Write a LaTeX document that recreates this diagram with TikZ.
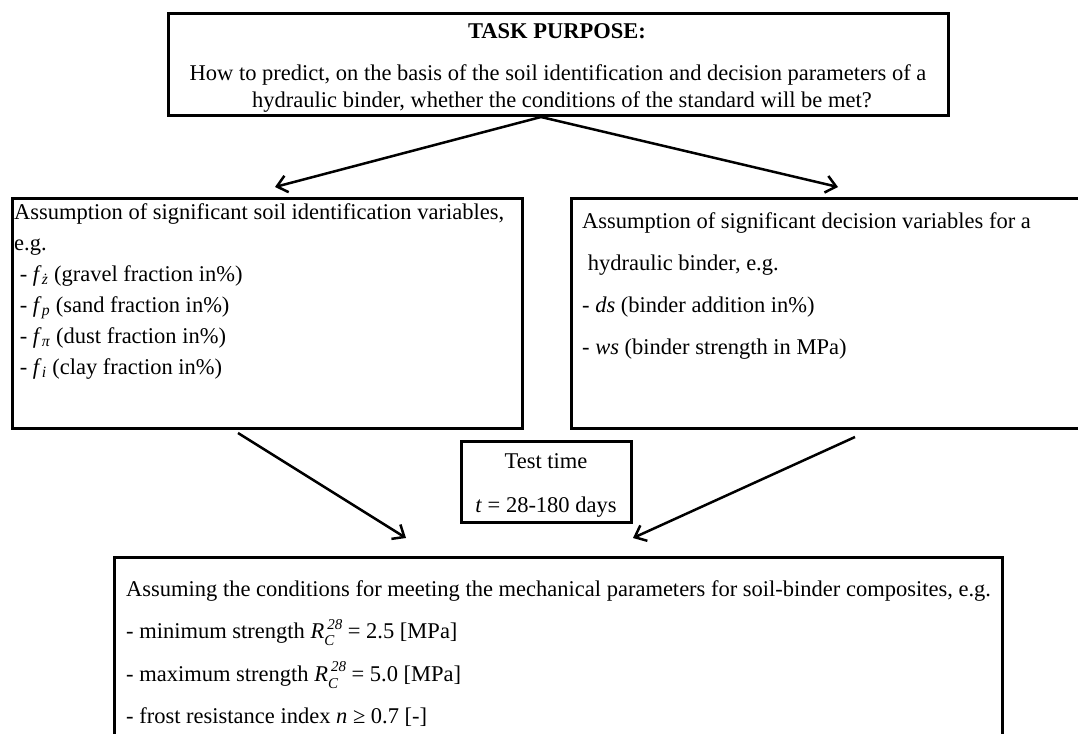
\documentclass[tikz,border=0pt]{standalone}
\usepackage{fontspec}
\setmainfont{Liberation Serif}
\usepackage{tikz}
\usetikzlibrary{arrows.meta}

\newcommand{\RCv}{\textit{R}\rlap{\raisebox{-0.32em}{\fontsize{15}{15}\selectfont\textit{C}}}\kern3pt\raisebox{0.42em}{\fontsize{15}{15}\selectfont\textit{28}}}

\tikzset{
	bloc/.style={draw, line width=3pt, rectangle, inner sep=0pt},
	ligne/.style={anchor=base west, inner sep=0pt, font=\fontsize{22.5}{26}\selectfont},
	lignec/.style={ligne, anchor=base},
	fleche/.style={line width=2.5pt, -{Straight Barb[length=10pt,width=17pt]}},
}

\begin{document}
\begin{tikzpicture}[x=1pt,y=-1pt]
			\useasboundingbox (0,0) rectangle (1078,733);
			\clip (0,0) rectangle (1078,733);
			% boxes
			\node[bloc, minimum width=780pt, minimum height=102pt] (TP) at (558,65) {};
			\node[bloc, minimum width=510pt, minimum height=230pt] (GA) at (267,313) {};
			\node[bloc, minimum width=510pt, minimum height=230pt] (GB) at (826,313) {};
			\node[bloc, minimum width=170pt, minimum height=81pt] (TT) at (546,481.5) {};
			\node[bloc, minimum width=888pt, minimum height=243pt] (WK) at (558,678.5) {};
			% task purpose
			\node[lignec] (TP0) at (557,39) {\textbf{TASK PURPOSE:}};
			\node[lignec] (TP1) at (558,81) {How to predict, on the basis of the soil identification and decision parameters of a};
			\node[lignec] (TP2) at (562,108) {hydraulic binder, whether the conditions of the standard will be met?};
			% soil variables
			\foreach \i/\t in {
				1/{Assumption of significant soil identification variables,},
				2/{e.g.},
				3/{\ - \textit{f}\textsubscript{\textit{ż}} (gravel fraction in\%)},
				4/{\ - \textit{f}\textsubscript{\textit{p}} (sand fraction in\%)},
				5/{\ - \textit{f}\textsubscript{\textit{π}} (dust fraction in\%)},
				6/{\ - \textit{f}\textsubscript{\textit{i}} (clay fraction in\%)}%
			} {
				\node[ligne] (GA\i) at (14,{188+31*\i}) {\t};
			}
			% binder variables
			\foreach \i/\t in {
				1/{Assumption of significant decision variables for a},
				2/{\ hydraulic binder, e.g.},
				3/{- \textit{ds} (binder addition in\%)},
				4/{- \textit{ws} (binder strength in MPa)}%
			} {
				\node[ligne] (GB\i) at (582,{186+42*\i}) {\t};
			}
			% test time
			\node[lignec] (TT1) at (546,468) {Test time};
			\node[lignec] (TT2) at (546,512) {\textit{t} = 28-180 days};
			% conditions
			\foreach \i/\t in {
				1/{Assuming the conditions for meeting the mechanical parameters for soil-binder composites, e.g.},
				2/{- minimum strength \RCv{} = 2.5 [MPa]},
				3/{- maximum strength \RCv{} = 5.0 [MPa]},
				4/{- frost resistance index \textit{n} ≥ 0.7 [-]}%
			} {
				\node[ligne] (WK\i) at (126,{553.5+42.5*\i}) {\t};
			}
			% arrows
			\coordinate (PA) at (541,117);
			\coordinate (PB) at (275,187);
			\coordinate (PC) at (838,187);
			\coordinate (QA) at (238,433);
			\coordinate (QB) at (406,538);
			\coordinate (QC) at (855,437);
			\coordinate (QD) at (633,538);
			\draw[fleche] (PA) -- (PB);
			\draw[fleche] (PA) -- (PC);
			\draw[fleche] (QA) -- (QB);
			\draw[fleche] (QC) -- (QD);
		\end{tikzpicture}
\end{document}
